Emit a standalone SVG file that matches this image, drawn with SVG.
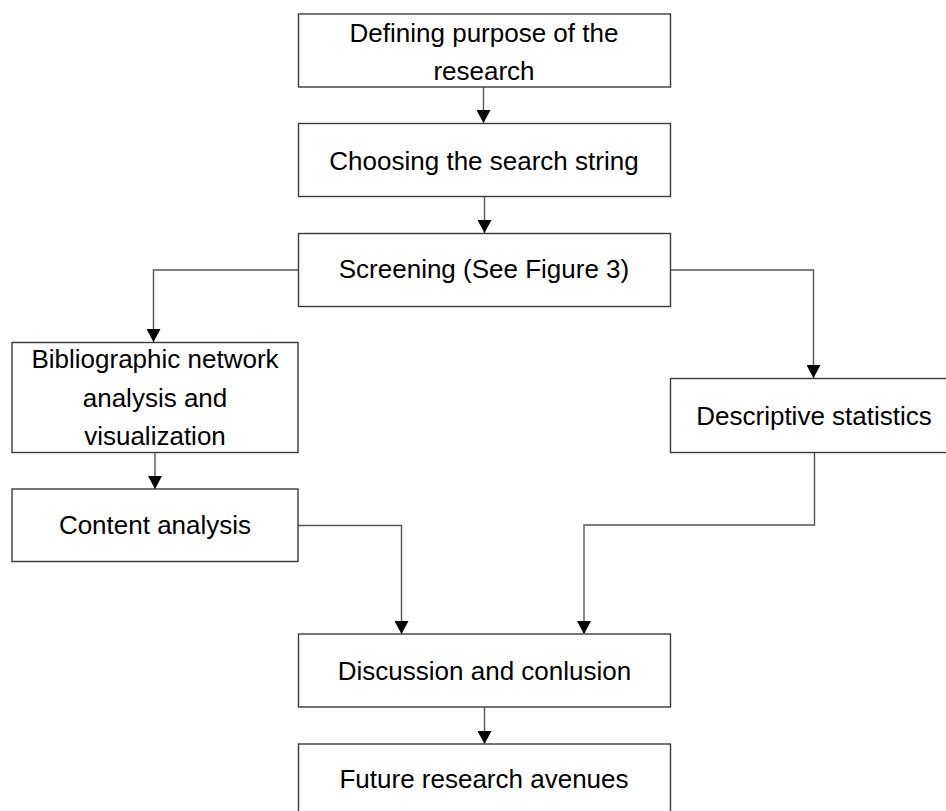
<svg xmlns="http://www.w3.org/2000/svg" width="946" height="811" viewBox="0 0 946 811">
<defs>
<style>
.box{fill:#fff;stroke:#3a3a3a;stroke-width:1.4}
.t{font-family:"Liberation Sans",Arial,sans-serif;font-size:26px;fill:#000;text-anchor:middle}
.c{fill:none;stroke:#555;stroke-width:1.4}
</style>
<marker id="ah" markerWidth="13" markerHeight="14" viewBox="0 0 13 14" refX="13" refY="7" orient="auto" markerUnits="userSpaceOnUse">
<path d="M0,0 L13,7 L0,14 z" fill="#000"/>
</marker>
</defs>
<rect width="946" height="811" fill="#fff"/>
<g id="connectors">
<path class="c" d="M483.5,87 V123" marker-end="url(#ah)"/>
<path class="c" d="M484.5,197 V233" marker-end="url(#ah)"/>
<path class="c" d="M298,270 H153.5 V342" marker-end="url(#ah)"/>
<path class="c" d="M671,270 H813.5 V378" marker-end="url(#ah)"/>
<path class="c" d="M155,452 V489" marker-end="url(#ah)"/>
<path class="c" d="M298,525.5 H401.5 V634" marker-end="url(#ah)"/>
<path class="c" d="M814.5,452 V525 H584 V634" marker-end="url(#ah)"/>
<path class="c" d="M484.5,707 V744" marker-end="url(#ah)"/>
</g>
<g id="n1"><rect class="box" x="298.5" y="14" width="372" height="73"/>
<text class="t" x="484" y="42">Defining purpose of the</text>
<text class="t" x="484" y="80">research</text></g>
<g id="n2"><rect class="box" x="298.5" y="123.5" width="372" height="73"/>
<text class="t" x="484" y="170">Choosing the search string</text></g>
<g id="n3"><rect class="box" x="298.5" y="233.5" width="372" height="73"/>
<text class="t" x="484" y="278">Screening (See Figure 3)</text></g>
<g id="n4"><rect class="box" x="12" y="342.5" width="286" height="110"/>
<text class="t" x="155" y="368">Bibliographic network</text>
<text class="t" x="155" y="407">analysis and</text>
<text class="t" x="155" y="445">visualization</text></g>
<g id="n5"><rect class="box" x="12" y="489" width="286" height="72.5"/>
<text class="t" x="155" y="534">Content analysis</text></g>
<g id="n6"><rect class="box" x="670.5" y="378.5" width="290" height="74"/>
<text class="t" x="814" y="425">Descriptive statistics</text></g>
<g id="n7"><rect class="box" x="298.5" y="634" width="372" height="73"/>
<text class="t" x="484.5" y="680">Discussion and conlusion</text></g>
<g id="n8"><rect class="box" x="298.5" y="744" width="372" height="90"/>
<text class="t" x="484" y="788">Future research avenues</text></g>
</svg>
